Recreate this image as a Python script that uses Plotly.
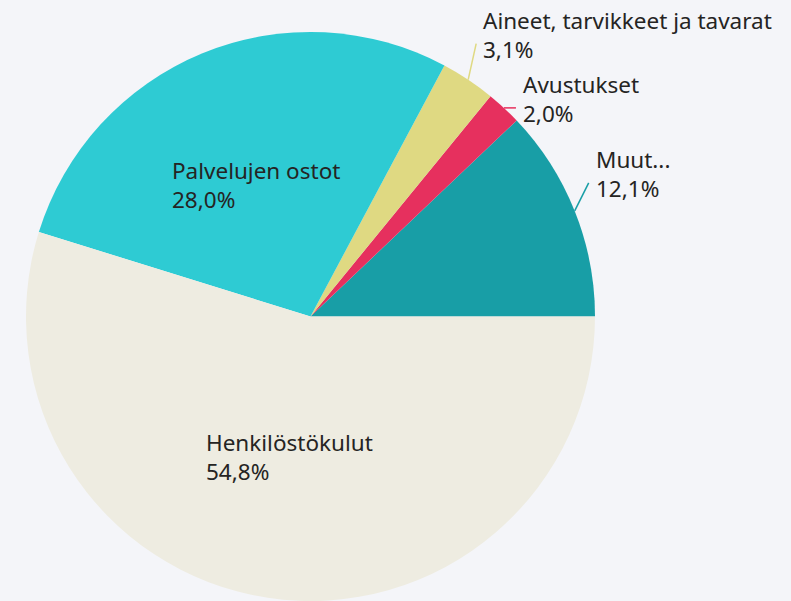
import math
import plotly.graph_objects as go

# ---- data ----
labels = ["Muut...", "Avustukset", "Aineet, tarvikkeet ja tavarat", "Palvelujen ostot", "Henkilöstökulut"]
values = [12.1, 2.0, 3.1, 28.0, 54.8]

# ---- style ----
colors = ["#189ea6", "#e6305e", "#dfd982", "#2ecbd3", "#eeece1"]
inside = [False, False, False, True, True]
# offset (px) from the slice's outer-edge midpoint to the left/middle of an outside label
label_offset = {
    "Muut...": (19, -37),
    "Avustukset": (17, -9),
    "Aineet, tarvikkeet ja tavarat": (13, -45),
}
W, H = 791, 601
BG = "#f4f5f9"
TXT = "#252423"
FONT = "Noto Sans"
FS = 22.5

# pie geometry (pixels)
dom_x = [0, 621 / W]
dom_y = [0, 569 / H]
R = min((dom_x[1] - dom_x[0]) * W, (dom_y[1] - dom_y[0]) * H) / 2
cx = (dom_x[0] + dom_x[1]) / 2 * W
cy = H - (dom_y[0] + dom_y[1]) / 2 * H

total = sum(values)
fig = go.Figure(go.Pie(
    labels=labels, values=values, sort=False, direction="counterclockwise",
    rotation=90 - values[0] / total * 360,
    marker=dict(colors=colors, line=dict(width=0)),
    textinfo="none", domain=dict(x=dom_x, y=dom_y),
    showlegend=False, hoverinfo="label+percent",
))

def px2paper(x, y):
    return x / W, (H - y) / H

annotations, shapes = [], []
cum = 0.0
for lab, val, col, ins in zip(labels, values, colors, inside):
    mid = math.radians((cum + val / 2) / total * 360)
    cum += val
    pct = f"{val / total * 100:.1f}%".replace(".", ",")
    text = f"{lab}<br>{pct}"
    if ins:
        x = cx + 0.5 * R * math.cos(mid)
        y = cy - 0.5 * R * math.sin(mid)
        ax, ay = px2paper(x, y)
        annotations.append(dict(x=ax, y=ay, xref="paper", yref="paper", text=text,
                                showarrow=False, xanchor="center", yanchor="middle", align="left"))
    else:
        ex = cx + R * math.cos(mid)
        ey = cy - R * math.sin(mid)
        dx, dy = label_offset[lab]
        tx, ty = ex + dx, ey + dy
        ax, ay = px2paper(tx, ty)
        annotations.append(dict(x=ax, y=ay, xref="paper", yref="paper", text=text,
                                showarrow=False, xanchor="left", yanchor="middle", align="left"))
        x0, y0 = px2paper(ex, ey)
        x1, y1 = px2paper(tx - 5, ty + 9)
        shapes.append(dict(type="line", xref="paper", yref="paper", x0=x0, y0=y0, x1=x1, y1=y1,
                           line=dict(color=col, width=1.5)))

fig.update_layout(
    width=W, height=H,
    margin=dict(l=0, r=0, t=0, b=0),
    paper_bgcolor=BG, plot_bgcolor=BG,
    font=dict(family=FONT, size=FS, color=TXT),
    annotations=annotations, shapes=shapes,
)
fig.write_html("out.html", config={"displayModeBar": False}, post_script=(
    "document.body.style.margin='0';"
    "document.body.style.background='" + BG + "';"
    "document.body.style.overflow='hidden';"
))
